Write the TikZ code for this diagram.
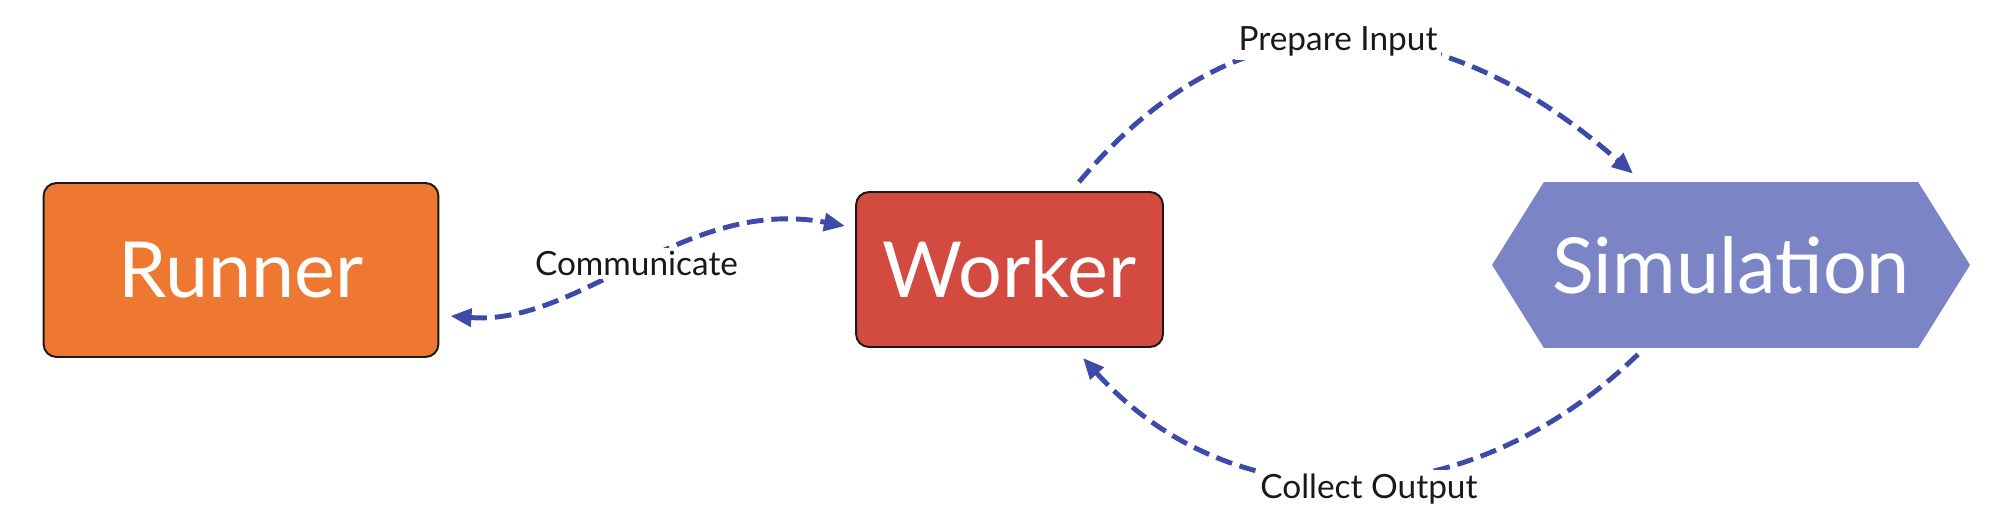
\documentclass[tikz,border=0pt]{standalone}
\usepackage{fontspec}
\setmainfont{Lato}
\usetikzlibrary{arrows.meta, calc, shapes.symbols}

\definecolor{runnerorange}{HTML}{EE7832}
\definecolor{workerred}{HTML}{D24A40}
\definecolor{simblue}{HTML}{7B85C5}
\definecolor{linkblue}{HTML}{3D4AA8}

\tikzset{
    box/.style={draw=black!90, line width=1.1pt, rounded corners=0.26cm, text=white,
        font=\fontsize{44}{52}\selectfont},
    link/.style={linkblue, line width=2.8pt, dash pattern=on 9.5pt off 4.5pt,
        -{Triangle[length=12pt,width=10pt]}},
    linklabel/.style={fill=white, text=black!90, inner sep=2pt,
        font=\fontsize{19}{23}\selectfont}
}

\begin{document}
\begin{tikzpicture}[x=0.02cm, y=-0.02cm]
    \useasboundingbox (0,0) rectangle (2012,526);

    \node[box, fill=runnerorange, minimum width=7.9cm, minimum height=3.48cm] (runner) at (241,270) {Runner};
    \node[box, fill=workerred, minimum width=6.14cm, minimum height=3.1cm] (worker) at (1009.5,269.5) {Worker};
    \node[signal, signal to=east and west, signal pointer angle=116, fill=simblue, text=white,
        minimum width=9.56cm, minimum height=3.32cm, inner sep=0pt,
        font=\fontsize{44}{52}\selectfont] (sim) at (1731,265) {Simulation};

    \draw[link, {Triangle[length=12pt,width=10pt]}-{Triangle[length=12pt,width=10pt]}]
        ($(runner.east)+(11,46)$) .. controls +(130,10) and +(-160,-30) .. ($(worker.west)+(-10,-43.5)$)
        node[linklabel, pos=0.5] (communicate) {Communicate};
    \draw[link]
        ($(worker.north)+(69.5,-9)$) .. controls +(156,-186) and +(-204,-178) .. ($(sim.north)+(-98,-8)$)
        node[linklabel, pos=0.5] (prepare) {Prepare Input};
    \draw[link]
        ($(sim.south)+(-93,6)$) .. controls +(-173,167) and +(148,164) .. ($(worker.south)+(73.5,10)$)
        node[linklabel, pos=0.47, yshift=-0.18cm] (collect) {Collect Output};
\end{tikzpicture}
\end{document}
